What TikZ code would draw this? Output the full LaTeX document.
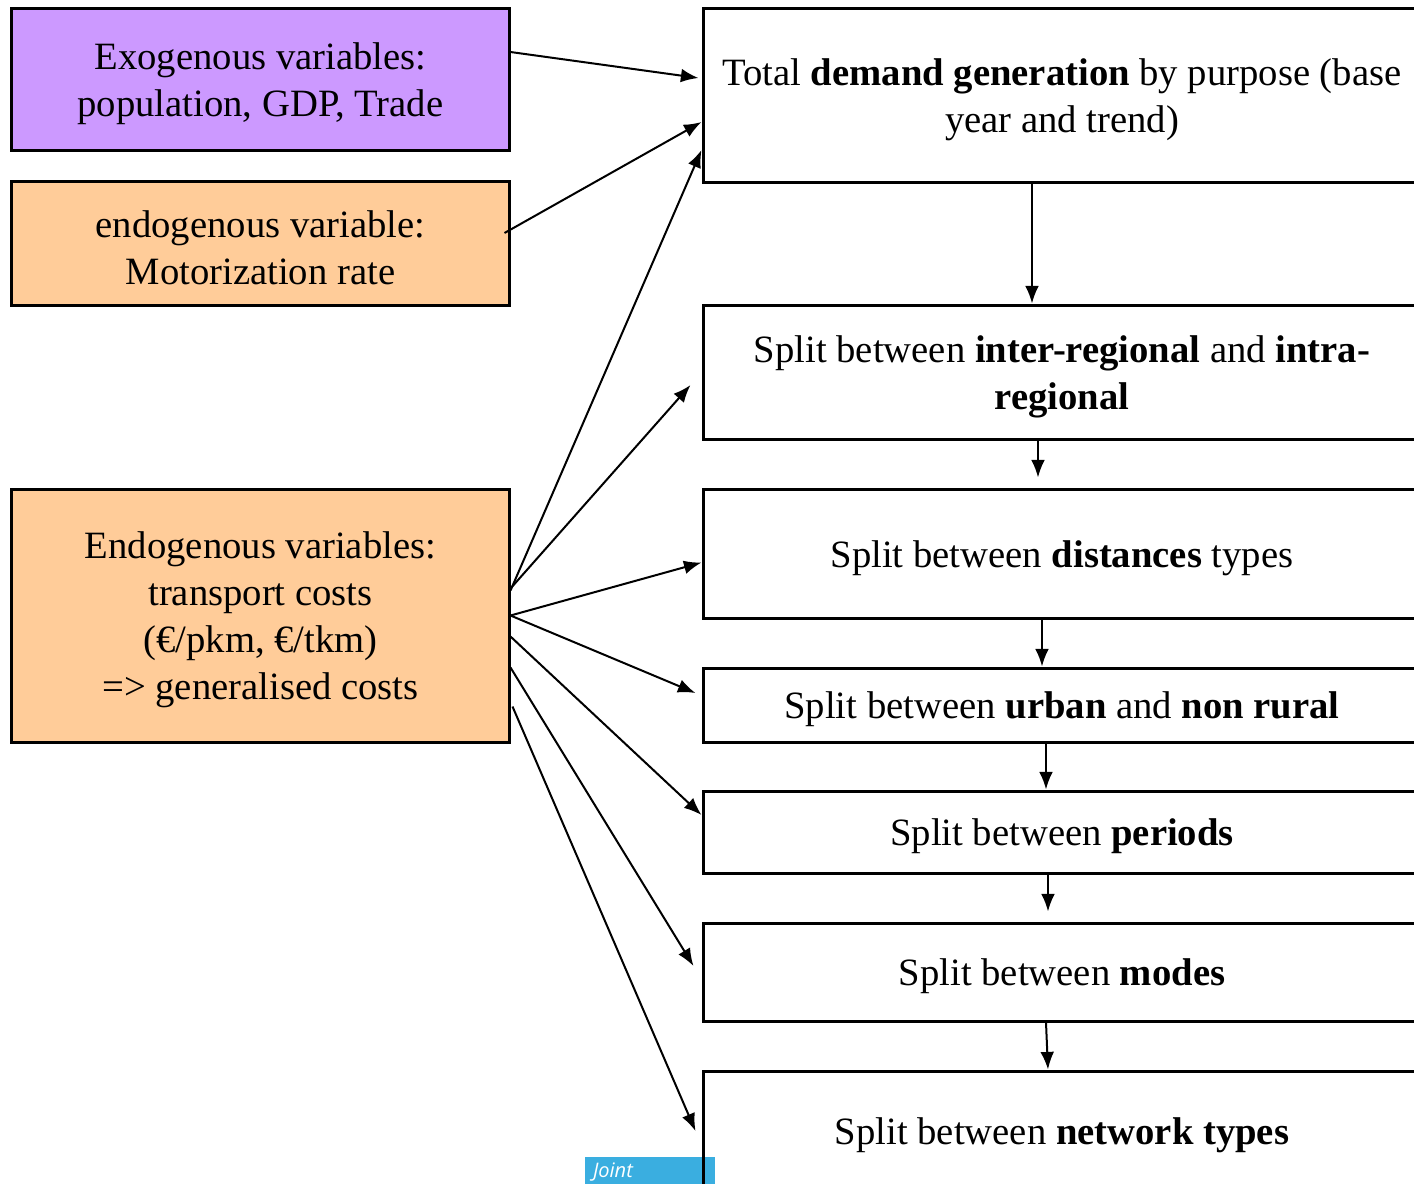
\documentclass[tikz,border=0pt]{standalone}
\usepackage{fontspec}
\setmainfont{Liberation Serif}
\newfontfamily\uifont{Open Sans}
\usetikzlibrary{arrows.meta}
\definecolor{exopurple}{HTML}{CC99FF}
\definecolor{endoorange}{HTML}{FFCC99}
\definecolor{jointblue}{HTML}{3AAEE0}
\begin{document}
\begin{tikzpicture}[line join=miter,
    font=\fontsize{11}{13.4}\selectfont,
    varbox/.style={draw, line width=0.03cm, inner sep=0pt, minimum width=4.97cm},
    stagebox/.style={draw, line width=0.03cm, inner sep=0pt, minimum width=7.18cm},
    boxtext/.style={align=center, inner sep=0pt, yshift=-0.045cm},
    flow/.style={line width=0.02cm, -{Latex[length=5pt,width=3.9pt]}}]
  \useasboundingbox (0,0) rectangle (14.14,-11.83);
  % left: variables
  \node[varbox, fill=exopurple, minimum height=1.42cm,
    label={[boxtext]center:Exogenous variables:\\population, GDP, Trade}] (exo) at (2.605,-0.79) {};
  \node[varbox, fill=endoorange, minimum height=1.24cm,
    label={[boxtext]center:endogenous variable:\\Motorization rate}] (endomot) at (2.605,-2.43) {};
  \node[varbox, fill=endoorange, minimum height=2.53cm,
    label={[boxtext]center:Endogenous variables:\\transport costs\\(€/pkm, €/tkm)\\=> generalised costs}]
    (endocost) at (2.605,-6.155) {};
  % joint tab
  \node[fill=jointblue, inner sep=0pt, minimum width=1.30cm, minimum height=0.30cm,
    text width=1.14cm, align=left, text=white, font=\uifont\itshape\fontsize{5.7}{7}\selectfont]
    (joint) at (6.50,-11.72) {Joint};
  % right: model stages
  \node[stagebox, minimum height=1.74cm,
    label={[boxtext]center:Total \textbf{demand generation} by purpose (base\\year and trend)}]
    (demgen) at (10.62,-0.95) {};
  \node[stagebox, minimum height=1.34cm,
    label={[boxtext]center:Split between \textbf{inter-regional} and \textbf{intra-}\\\textbf{regional}}]
    (interreg) at (10.62,-3.72) {};
  \node[stagebox, minimum height=1.29cm,
    label={[boxtext]center:Split between \textbf{distances} types}] (dist) at (10.62,-5.535) {};
  \node[stagebox, minimum height=0.74cm,
    label={[boxtext]center:Split between \textbf{urban} and \textbf{non rural}}] (urban) at (10.62,-7.05) {};
  \node[stagebox, minimum height=0.82cm,
    label={[boxtext]center:Split between \textbf{periods}}] (periods) at (10.62,-8.32) {};
  \node[stagebox, minimum height=0.98cm,
    label={[boxtext]center:Split between \textbf{modes}}] (modes) at (10.62,-9.72) {};
  \node[stagebox, minimum height=1.20cm,
    label={[boxtext]center:Split between \textbf{network types}}] (network) at (10.62,-11.31) {};
  % stage chain
  \draw[flow] ([xshift=-0.30cm]demgen.south) -- ([xshift=-0.30cm]interreg.north);
  \draw[flow] ([xshift=-0.24cm]interreg.south) -- ([xshift=-0.24cm,yshift=0.10cm]dist.north);
  \draw[flow] ([xshift=-0.20cm]dist.south) -- ([xshift=-0.20cm]urban.north);
  \draw[flow] ([xshift=-0.16cm]urban.south) -- ([xshift=-0.16cm]periods.north);
  \draw[flow] ([xshift=-0.14cm]periods.south) -- ([xshift=-0.14cm,yshift=0.10cm]modes.north);
  \draw[flow] ([xshift=-0.16cm]modes.south) -- ([xshift=-0.14cm]network.north);
  % inputs
  \draw[flow] ([yshift=0.27cm]exo.east) -- ([xshift=-0.03cm,yshift=0.17cm]demgen.west);
  \draw[flow] ([xshift=-0.06cm,yshift=0.10cm]endomot.east) -- ([yshift=-0.27cm]demgen.west);
  \draw[flow] ([yshift=0.25cm]endocost.east) -- ([yshift=-0.55cm]demgen.west);
  \draw[flow] ([yshift=0.27cm]endocost.east) -- ([xshift=-0.11cm,yshift=-0.13cm]interreg.west);
  \draw[flow] (endocost.east) -- ([yshift=-0.09cm]dist.west);
  \draw[flow] (endocost.east) -- ([xshift=-0.06cm,yshift=0.12cm]urban.west);
  \draw[flow] ([yshift=-0.21cm]endocost.east) -- ([yshift=0.17cm]periods.west);
  \draw[flow] ([yshift=-0.52cm]endocost.east) -- ([xshift=-0.08cm,yshift=0.06cm]modes.west);
  \draw[flow] ([xshift=0.02cm,yshift=-0.91cm]endocost.east) -- ([xshift=-0.06cm]network.west);
\end{tikzpicture}
\end{document}
